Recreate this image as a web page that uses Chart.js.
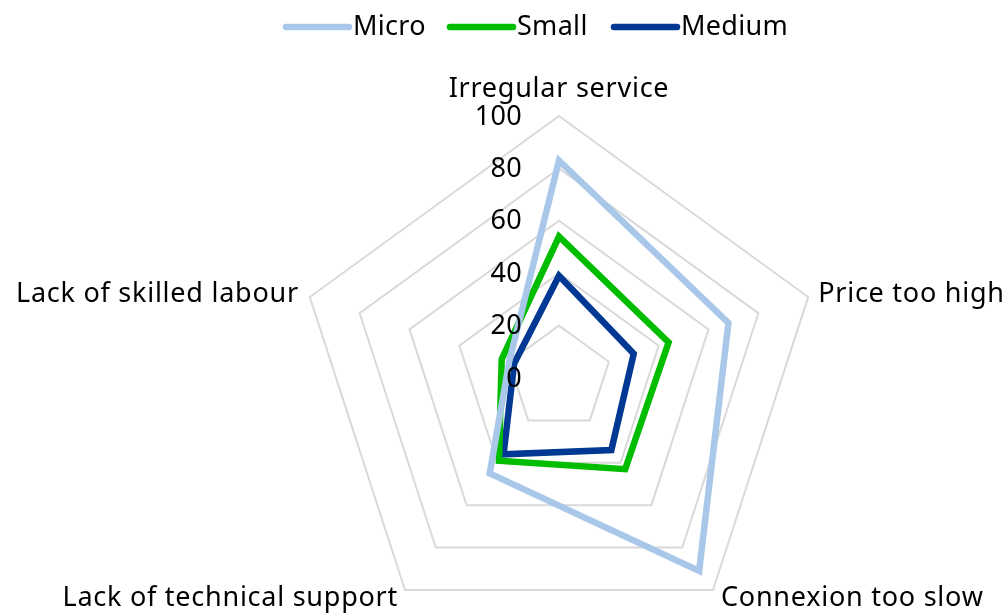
<!DOCTYPE html>
<html>
<head>
<meta charset="utf-8">
<script src="https://cdn.jsdelivr.net/npm/chart.js@4/dist/chart.umd.min.js"></script>
<style>
  html, body { margin: 0; padding: 0; background: #fff; }
  canvas { display: block; }
</style>
</head>
<body>
<canvas id="radarChart" width="1008" height="615"></canvas>
<script>
// Chart data
const categories = ['Irregular service', 'Price too high', 'Connexion too slow', 'Lack of technical support', 'Lack of skilled labour'];
const seriesNames = ['Micro', 'Small', 'Medium'];
const microValues = [83, 68, 91, 45, 20];
const smallValues = [54, 44, 43, 39, 23];
const mediumValues = [39, 30, 34, 36, 18];
const tickValues = [0, 20, 40, 60, 80, 100];

const seriesColors = ['#a9c8e9', '#00bd00', '#003893'];
const FONT = '27px "Noto Sans"';

// Place the radar where the reference has it
const CENTER_X = 559, CENTER_Y = 378, RADIUS = 262;

// Draws tick labels, category labels and the legend
const labelsPlugin = {
  id: 'labelsPlugin',
  afterDraw(chart) {
    const ctx = chart.ctx;
    const scale = chart.scales.r;
    ctx.save();
    ctx.font = FONT;
    ctx.fillStyle = '#000';

    // tick labels to the left of the top axis
    ctx.letterSpacing = '0.3px';
    ctx.textAlign = 'right';
    ctx.textBaseline = 'middle';
    tickValues.forEach(v => {
      const y = scale.yCenter - scale.getDistanceFromCenterForValue(v);
      ctx.fillText(String(v), scale.xCenter - 37, y + 1);
    });

    // category labels
    ctx.letterSpacing = '0.75px';
    categories.forEach((label, i) => {
      const p = scale.getPointPosition(i, scale.drawingArea);
      if (i === 0) {
        ctx.textAlign = 'center';
        ctx.textBaseline = 'alphabetic';
        ctx.fillText(label, p.x, p.y - 19);
      } else if (i === 1) {
        ctx.textAlign = 'left';
        ctx.textBaseline = 'middle';
        ctx.fillText(label, p.x + 10, p.y - 3);
      } else if (i === 2) {
        ctx.textAlign = 'left';
        ctx.textBaseline = 'alphabetic';
        ctx.fillText(label, p.x + 8, p.y + 16);
      } else if (i === 3) {
        ctx.textAlign = 'right';
        ctx.textBaseline = 'alphabetic';
        ctx.fillText(label, p.x - 7, p.y + 16);
      } else {
        ctx.textAlign = 'right';
        ctx.textBaseline = 'middle';
        ctx.fillText(label, p.x - 11, p.y - 3);
      }
    });

    // legend
    ctx.letterSpacing = '0.3px';
    const legendX = [286, 450, 614];
    ctx.textAlign = 'left';
    ctx.textBaseline = 'middle';
    ctx.lineCap = 'round';
    ctx.lineWidth = 6.5;
    seriesNames.forEach((name, i) => {
      ctx.strokeStyle = seriesColors[i];
      ctx.beginPath();
      ctx.moveTo(legendX[i], 27);
      ctx.lineTo(legendX[i] + 63, 27);
      ctx.stroke();
      ctx.fillText(name, legendX[i] + 67, 27);
    });
    ctx.restore();
  }
};

const datasets = [microValues, smallValues, mediumValues].map((values, i) => ({
  label: seriesNames[i],
  data: values,
  borderColor: seriesColors[i],
  backgroundColor: seriesColors[i],
  borderWidth: 6.5,
  borderJoinStyle: 'miter',
  fill: false,
  pointRadius: 0,
  pointHoverRadius: 0
}));

const ctx = document.getElementById('radarChart').getContext('2d');
new Chart(ctx, {
  type: 'radar',
  data: {
    labels: categories,
    datasets: datasets
  },
  options: {
    responsive: false,
    animation: false,
    plugins: {
      legend: { display: false },
      tooltip: { enabled: false }
    },
    scales: {
      r: {
        min: 0,
        max: 100,
        ticks: { display: false, stepSize: 20 },
        pointLabels: { display: false },
        angleLines: { display: false },
        grid: { color: '#d9d9d9', lineWidth: 2 },
        afterFit(scale) {
          scale.xCenter = CENTER_X;
          scale.yCenter = CENTER_Y;
          scale.drawingArea = RADIUS;
        }
      }
    }
  },
  plugins: [labelsPlugin]
});
</script>
</body>
</html>
